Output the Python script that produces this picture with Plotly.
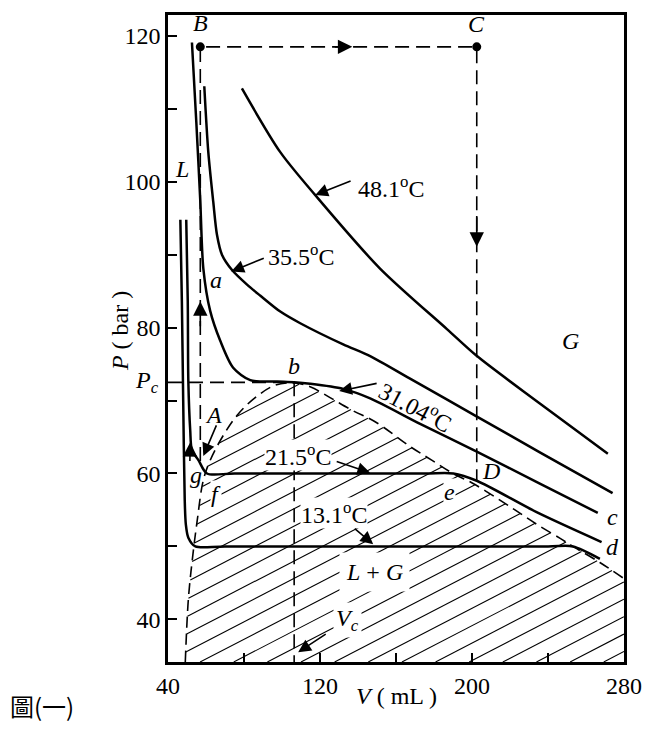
import plotly.graph_objects as go

# CO2 isotherms (V in mL, P in bar)
T481_V = [78.9, 99.0, 117.4, 151.6, 186.8, 202.6, 235.7, 271.5]
T481_P = [112.8, 104.1, 98.2, 88.1, 79.8, 76.1, 69.6, 62.7]

T355_V = [59.1, 61.2, 63.8, 65.8, 68.4, 73.7, 81.6, 88.5, 99.1, 109.6, 132.2, 146.4, 167.4, 202.6, 235.7, 274.0]
T355_P = [113.1, 104.1, 97.3, 92.7, 90.0, 87.9, 85.9, 84.4, 82.2, 80.6, 77.7, 76.1, 73.0, 67.8, 62.9, 57.3]

T3104_V = [52.6, 54.9, 57.0, 58.6, 62.2, 67.5, 74.3, 83.3, 97.5, 106.4, 114.8, 132.2, 146.4, 172.7, 202.5, 235.7, 266.2]
T3104_P = [119.1, 108.2, 97.3, 88.1, 82.3, 78.2, 74.5, 72.8, 72.6, 72.5, 72.3, 71.6, 70.3, 66.8, 63.0, 58.6, 54.6]

T215_V = [49.6, 50.4, 50.7, 51.7, 52.6, 56.1, 60.5, 75.0, 175.0, 190.2, 202.5, 234.0, 268.2]
T215_P = [94.8, 83.6, 72.7, 65.9, 63.2, 61.8, 60.0, 60.0, 60.0, 60.0, 59.0, 54.7, 50.6]

T131_V = [46.5, 47.3, 48.0, 48.8, 49.4, 50.7, 54.4, 70.0, 240.0, 253.1, 267.3]
T131_P = [94.8, 83.6, 70.0, 56.4, 53.0, 51.2, 50.0, 50.0, 50.0, 50.0, 48.3]

# two-phase boundary (dashed dome)
DOME_V = [49.1, 50.7, 52.8, 55.4, 58.6, 62.2, 68.6, 76.4, 85.9, 96.4, 106.4, 114.8, 125.3,
          137.4, 149.0, 167.4, 179.0, 190.0, 200.1, 213.2, 223.8, 234.3, 246.4, 253.1, 267.3, 279.9]
DOME_P = [34.15, 42.7, 48.2, 53.6, 59.1, 61.8, 65.0, 68.0, 70.4, 72.1, 72.4, 71.9, 70.4,
          68.6, 67.1, 63.7, 61.8, 60.0, 58.7, 56.6, 54.8, 53.0, 51.1, 50.0, 47.8, 45.6]

# path g -> B -> C -> D
PATH_V = [57.0, 57.0, 202.5, 202.5]
PATH_P = [61.7, 118.5, 118.5, 59.0]

PC = 72.5
VC = 106.4

X_RANGE = [40, 280]
Y_RANGE = [34.15, 122.87]
X_TICKS = [40, 120, 200, 280]
X_MINOR = [80, 160, 240]
Y_TICKS = [40, 60, 80, 100, 120]
Y_MINOR = [50, 70, 90, 110]

SERIF = 'Liberation Serif'


def hatch(poly_v, poly_p, slope, step, c0, c1):
    # diagonal hatch lines clipped to the polygon
    xs, ys = [], []
    n = len(poly_v)
    c = c0
    while c < c1:
        hits = []
        for i in range(n):
            v1, p1 = poly_v[i], poly_p[i]
            v2, p2 = poly_v[(i + 1) % n], poly_p[(i + 1) % n]
            f1 = p1 - (c + slope * (v1 - 40))
            f2 = p2 - (c + slope * (v2 - 40))
            if (f1 > 0) != (f2 > 0):
                t = f1 / (f1 - f2)
                hits.append(v1 + t * (v2 - v1))
        hits.sort()
        for a, b in zip(hits[0::2], hits[1::2]):
            xs += [a, b, None]
            ys += [c + slope * (a - 40), c + slope * (b - 40), None]
        c += step
    return xs, ys


fig = go.Figure()

poly_v = DOME_V + [280]
poly_p = DOME_P + [Y_RANGE[0]]
hx, hy = hatch(poly_v, poly_p, 0.135, 2.39, 0.8, 66)
fig.add_trace(go.Scatter(x=hx, y=hy, mode='lines', line=dict(color='black', width=1.1)))

fig.add_trace(go.Scatter(x=DOME_V, y=DOME_P, mode='lines', line_shape='spline',
                         line=dict(color='black', width=1.6, dash='11px,6px')))

for vv, pp in [(T481_V, T481_P), (T355_V, T355_P), (T3104_V, T3104_P),
               (T215_V, T215_P), (T131_V, T131_P)]:
    fig.add_trace(go.Scatter(x=vv, y=pp, mode='lines', line_shape='spline',
                             line=dict(color='black', width=2.5, smoothing=0.8)))

fig.add_trace(go.Scatter(x=PATH_V, y=PATH_P, mode='lines',
                         line=dict(color='black', width=1.6, dash='14px,7px')))
fig.add_trace(go.Scatter(x=[40, VC], y=[PC, PC], mode='lines',
                         line=dict(color='black', width=1.6, dash='14px,7px')))
fig.add_trace(go.Scatter(x=[VC, VC], y=[PC, Y_RANGE[0]], mode='lines',
                         line=dict(color='black', width=1.6, dash='14px,7px')))
fig.add_trace(go.Scatter(x=PATH_V[1:3], y=PATH_P[1:3], mode='markers',
                         marker=dict(color='black', size=9)))

font = dict(family=SERIF, size=24, color='black')
ann = []


def label(v, p, text, bg=None, angle=0, pad=1):
    d = dict(x=v, y=p, xref='x', yref='y', text=text, showarrow=False, font=font,
             textangle=angle, borderpad=pad)
    if bg:
        d['bgcolor'] = bg
    ann.append(d)


def arrow(v0, p0, v1, p1, size=1.6):
    ann.append(dict(x=v1, y=p1, ax=v0, ay=p0, xref='x', yref='y', axref='x', ayref='y',
                    text='', showarrow=True, arrowhead=2, arrowsize=size,
                    arrowwidth=1.6, arrowcolor='black', standoff=0, startstandoff=0))


label(157.5, 99.3, '48.1<sup>o</sup>C')
label(110.0, 90.0, '35.5<sup>o</sup>C')
label(170.5, 69.3, '31.04<sup>o</sup>C', angle=28)
label(108.5, 62.5, '21.5<sup>o</sup>C', bg='white', pad=0)
label(127.5, 54.6, '13.1<sup>o</sup>C', bg='white', pad=0)
label(148.5, 46.5, '<i>L</i> + <i>G</i>', bg='white', pad=6)
label(134.3, 39.9, '<i>V</i><sub><i>c</i></sub>', bg='white', pad=2)
label(47.5, 101.8, '<i>L</i>')
label(252.1, 78.1, '<i>G</i>')
label(65.4, 86.6, '<i>a</i>')
label(106.4, 74.8, '<i>b</i>')
label(273.7, 54.0, '<i>c</i>')
label(273.7, 49.9, '<i>d</i>')
label(187.9, 57.5, '<i>e</i>', bg='white', pad=0)
label(65.4, 57.2, '<i>f</i>', bg='white', pad=0)
label(54.9, 59.8, '<i>g</i>')
label(209.8, 60.4, '<i>D</i>')
label(63.8, 68.0, '<i>A</i>')
label(57.0, 121.8, '<i>B</i>')
label(202.6, 121.6, '<i>C</i>')

arrow(136.9, 100.2, 117.5, 98.2)   # 48.1
arrow(91.2, 89.6, 73.3, 87.7)      # 35.5 -> a
arrow(150.6, 72.4, 130.1, 71.3)    # 31.04
arrow(128.0, 61.7, 146.4, 60.1)    # 21.5
arrow(137.5, 52.6, 148.0, 50.3)    # 13.1
arrow(123.8, 38.1, 108.5, 35.5)    # Vc
arrow(65.8, 66.8, 58.6, 62.4)      # A
arrow(127.0, 118.5, 137.0, 118.5, size=1.8)
arrow(202.5, 95.5, 202.5, 91.1, size=1.8)
arrow(57.0, 80.0, 57.0, 83.6, size=1.8)
arrow(51.5, 61.5, 51.7, 64.3, size=1.8)

ann.append(dict(x=-0.015, y=PC, xref='paper', yref='y', text='<i>P</i><sub><i>c</i></sub>',
                showarrow=False, font=font, xanchor='right'))
ann.append(dict(x=-0.1396, y=0.512, xref='paper', yref='paper', text='<i>P</i> ( bar )',
                textangle=-90, showarrow=False, font=font))
ann.append(dict(x=0.502, y=-0.0754, xref='paper', yref='paper', text='<i>V</i> ( mL )',
                showarrow=False, font=font))
ann.append(dict(x=-0.351, y=-0.097, xref='paper', yref='paper', text='圖(一)',
                showarrow=False, xanchor='left',
                font=dict(family='Noto Sans CJK TC', size=24, color='black')))

axis = dict(showgrid=False, zeroline=False, showline=True, linecolor='black', linewidth=2.5,
            mirror=True, ticks='inside', ticklen=9, tickwidth=2, tickcolor='black',
            tickfont=dict(family=SERIF, size=24, color='black'))
minor = dict(ticks='inside', ticklen=9, tickwidth=2, tickcolor='black', showgrid=False)

# the page body adds an 8 px offset, so margins are set 8 px smaller on top/left
fig.update_layout(
    width=658, height=751,
    margin=dict(l=160, r=42, t=4, b=97),
    paper_bgcolor='white', plot_bgcolor='white',
    showlegend=False,
    xaxis=dict(range=X_RANGE, tickvals=X_TICKS, minor=dict(tickvals=X_MINOR, **minor), **axis),
    yaxis=dict(range=Y_RANGE, tickvals=Y_TICKS, minor=dict(tickvals=Y_MINOR, **minor), **axis),
    annotations=ann,
)

fig.write_html('out.html')
